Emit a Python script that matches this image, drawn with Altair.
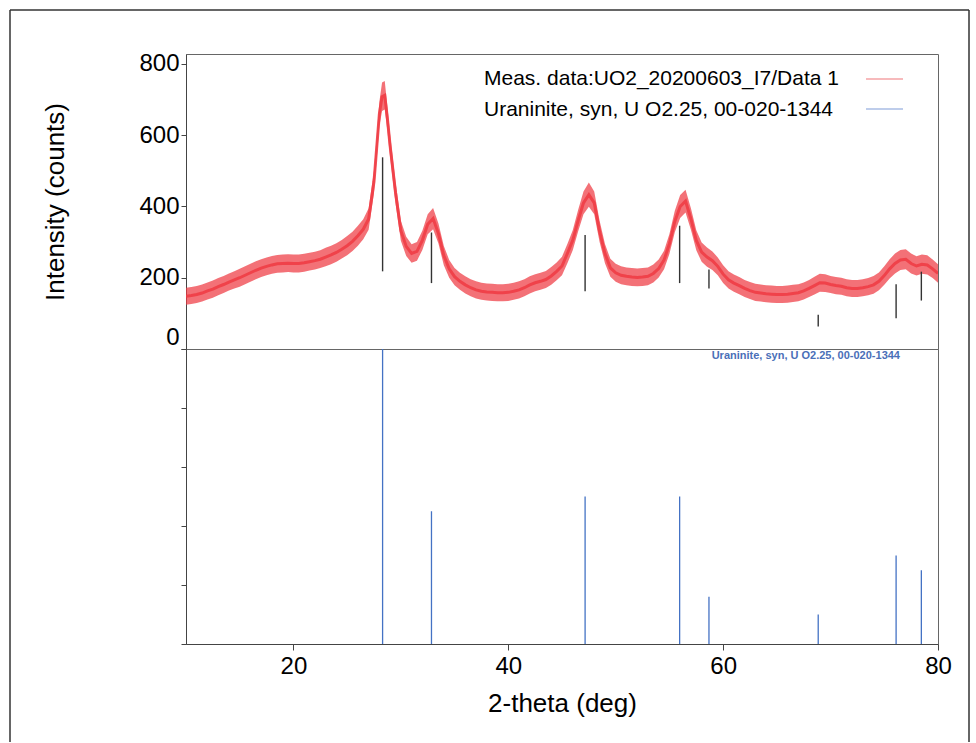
import altair as alt
import pandas as pd

# ---------------- data ----------------
two_theta = [10.0, 10.5, 11.0, 11.5, 12.0, 12.5, 13.0, 13.5, 14.0, 14.5, 15.0, 15.5, 16.0, 16.5,
             17.0, 17.5, 18.0, 18.5, 19.0, 19.5, 20.0, 20.5, 21.0, 21.5, 22.0, 22.5, 23.0, 23.5,
             24.0, 24.5, 25.0, 25.5, 26.0, 26.5, 27.0, 27.5, 28.0, 28.25, 28.5, 28.75, 29.0, 29.5,
             30.0, 30.5, 31.0, 31.5, 32.0, 32.5, 33.0, 33.5, 34.0, 34.5, 35.0, 35.5, 36.0, 36.5,
             37.0, 37.5, 38.0, 38.5, 39.0, 39.5, 40.0, 40.5, 41.0, 41.5, 42.0, 42.5, 43.0, 43.5,
             44.0, 44.5, 45.0, 45.5, 46.0, 46.5, 47.0, 47.5, 48.0, 48.5, 49.0, 49.5, 50.0, 50.5,
             51.0, 51.5, 52.0, 52.5, 53.0, 53.5, 54.0, 54.5, 55.0, 55.5, 56.0, 56.5, 57.0, 57.5,
             58.0, 58.5, 59.0, 59.5, 60.0, 60.5, 61.0, 61.5, 62.0, 62.5, 63.0, 63.5, 64.0, 64.5,
             65.0, 65.5, 66.0, 66.5, 67.0, 67.5, 68.0, 68.5, 69.0, 69.5, 70.0, 70.5, 71.0, 71.5,
             72.0, 72.5, 73.0, 73.5, 74.0, 74.5, 75.0, 75.5, 76.0, 76.5, 77.0, 77.5, 78.0, 78.5,
             79.0, 79.5, 80.0]
intensity = [148, 150, 153, 157, 163, 168, 175, 181, 188, 194, 200, 207, 214, 221,
             227, 232, 236, 239, 240, 241, 240, 240, 242, 245, 248, 252, 258, 264,
             271, 280, 290, 302, 318, 336, 365, 470, 660, 708, 712, 646, 570, 440,
             332, 288, 268, 274, 305, 350, 366, 324, 262, 225, 203, 190, 180, 172,
             166, 162, 160, 159, 158, 158, 159, 162, 166, 172, 180, 186, 190, 195,
             205, 218, 233, 268, 305, 360, 410, 433, 410, 330, 268, 228, 214, 207,
             204, 202, 201, 202, 204, 212, 226, 250, 295, 358, 400, 415, 365, 305,
             272, 258, 248, 232, 210, 194, 185, 178, 170, 164, 159, 157, 155, 154,
             153, 153, 154, 156, 158, 163, 170, 178, 186, 185, 181, 178, 176, 172,
             170, 170, 172, 175, 180, 190, 206, 225, 240, 250, 252, 240, 233, 238,
             236, 225, 212]
# half width of the noise band around the trace (counts)
noise = [24, 24, 24, 24, 24, 24, 24, 24, 24, 24, 25, 25, 25, 25,
         25, 25, 25, 25, 25, 25, 25, 25, 25, 25, 25, 25, 26, 26,
         26, 26, 27, 27, 28, 28, 30, 32, 34, 40, 40, 34, 32, 30,
         28, 27, 26, 26, 27, 28, 30, 28, 27, 25, 24, 24, 24, 24,
         24, 24, 24, 24, 24, 24, 24, 24, 24, 24, 24, 24, 24, 24,
         25, 25, 26, 27, 28, 30, 32, 34, 32, 30, 27, 25, 25, 25,
         25, 25, 25, 25, 25, 25, 25, 26, 28, 30, 32, 32, 30, 28,
         27, 27, 26, 25, 25, 24, 24, 24, 24, 24, 24, 24, 24, 24,
         24, 24, 24, 24, 24, 24, 24, 25, 25, 25, 24, 24, 24, 24,
         24, 24, 24, 24, 25, 25, 26, 27, 28, 28, 28, 28, 27, 27,
         27, 26, 26]

ref_pos = [28.3, 32.85, 47.15, 55.95, 58.68, 68.85, 76.1, 78.45]
ref_rel = [100, 45, 50, 50, 16, 10, 30, 25]
# black marker sticks in the upper panel (counts)
stick_lo = [218, 185, 162, 185, 170, 63, 86, 136]
stick_hi = [538, 327, 320, 346, 223, 96, 182, 217]

legend_labels = ["Meas. data:UO2_20200603_I7/Data 1", "Uraninite, syn, U O2.25, 00-020-1344"]
card_label = "Uraninite, syn, U O2.25, 00-020-1344"

x_ticks = [20, 40, 60, 80]
y_ticks = [0, 200, 400, 600, 800]
rel_ticks = [0, 20, 40, 60, 80, 100]

# ---------------- tables ----------------
meas = pd.DataFrame({"t": two_theta, "i": intensity, "n": noise})
meas["lo"] = meas["i"] - meas["n"]
meas["hi"] = meas["i"] + meas["n"]
ref = pd.DataFrame({"t": ref_pos, "rel": ref_rel, "lo": stick_lo, "hi": stick_hi, "base": [0] * len(ref_pos)})
one = pd.DataFrame({"k": [0]})

FONT = "Liberation Sans"
RED = "#ee3a42"
BLUE = "#4472c4"
AX = "#444444"
W, H = 752, 295

xs = alt.Scale(domain=[10, 80], nice=False, zero=False)
ys_top = alt.Scale(domain=[0, 828], nice=False)

band = alt.Chart(meas).mark_area(color=RED, opacity=0.72, clip=True).encode(
    x=alt.X("t:Q", scale=xs, axis=None),
    y=alt.Y("lo:Q", scale=ys_top,
            axis=alt.Axis(values=y_ticks, title="Intensity (counts)", grid=False,
                          labelFontSize=24, labelFont=FONT, labelColor="#000",
                          titleFontSize=26, titleFont=FONT, titleFontWeight="normal",
                          titleColor="#000", titlePadding=70,
                          tickSize=5, labelPadding=2, domainColor=AX, tickColor=AX,
                          labelFlush=True)),
    y2="hi:Q",
)
trace = alt.Chart(meas).mark_line(color=RED, strokeWidth=3, opacity=0.85, clip=True).encode(
    x=alt.X("t:Q", scale=xs), y=alt.Y("i:Q", scale=ys_top))
marks_top = alt.Chart(ref).mark_rule(color="#333", strokeWidth=1.4).encode(
    x=alt.X("t:Q", scale=xs), y=alt.Y("lo:Q", scale=ys_top), y2="hi:Q")

leg_text1 = alt.Chart(one).mark_text(align="left", baseline="middle", fontSize=21, font=FONT,
                                     color="#000").encode(
    x=alt.value(298), y=alt.value(25), text=alt.value(legend_labels[0]))
leg_text2 = alt.Chart(one).mark_text(align="left", baseline="middle", fontSize=21, font=FONT,
                                     color="#000").encode(
    x=alt.value(298), y=alt.value(56), text=alt.value(legend_labels[1]))
leg_line1 = alt.Chart(one).mark_rule(color="#f4a3a6", strokeWidth=1.5).encode(
    x=alt.value(680), x2=alt.value(717), y=alt.value(25))
leg_line2 = alt.Chart(one).mark_rule(color="#a9bde4", strokeWidth=1.5).encode(
    x=alt.value(680), x2=alt.value(717), y=alt.value(55))

frame_top = alt.Chart(one).mark_rule(color="#333", strokeWidth=1.5).encode(
    x=alt.value(-176), x2=alt.value(783), y=alt.value(-44))
frame_left = alt.Chart(one).mark_rule(color="#333", strokeWidth=1.5).encode(
    x=alt.value(-176), y=alt.value(-44), y2=alt.value(688))
frame_right = alt.Chart(one).mark_rule(color="#333", strokeWidth=1.5).encode(
    x=alt.value(783), y=alt.value(-44), y2=alt.value(688))

top = alt.layer(band, trace, marks_top, leg_text1, leg_text2, leg_line1, leg_line2,
                frame_top, frame_left, frame_right).properties(width=W, height=H)

sticks = alt.Chart(ref).mark_rule(color=BLUE, strokeWidth=1.3).encode(
    x=alt.X("t:Q", scale=xs,
            axis=alt.Axis(values=x_ticks, title="2-theta (deg)", grid=False,
                          labelFontSize=24, labelFont=FONT, labelColor="#000",
                          titleFontSize=26, titleFont=FONT, titleFontWeight="normal",
                          titleColor="#000", titlePadding=12,
                          tickSize=6, labelPadding=4, domainColor=AX, tickColor=AX,
                          labelFlush=False)),
    y=alt.Y("rel:Q", scale=alt.Scale(domain=[0, 100], nice=False),
            axis=alt.Axis(values=rel_ticks, labels=False, title=None, grid=False,
                          tickSize=5, domainColor=AX, tickColor=AX)),
    y2="base:Q",
)
card = alt.Chart(one).mark_text(align="right", baseline="middle", fontSize=11, font=FONT,
                                fontWeight="bold", color="#4a6fb8").encode(
    x=alt.value(714), y=alt.value(7), text=alt.value(card_label))

bottom = alt.layer(sticks, card).properties(width=W, height=H)

chart = alt.vconcat(top, bottom, spacing=0, bounds="flush").properties(
    padding={"left": 8, "top": 8, "right": 0, "bottom": 0},
    background="white",
).configure_view(stroke="#666", strokeWidth=1)

chart.save("out.html", embed_options={"renderer": "svg", "actions": False})
